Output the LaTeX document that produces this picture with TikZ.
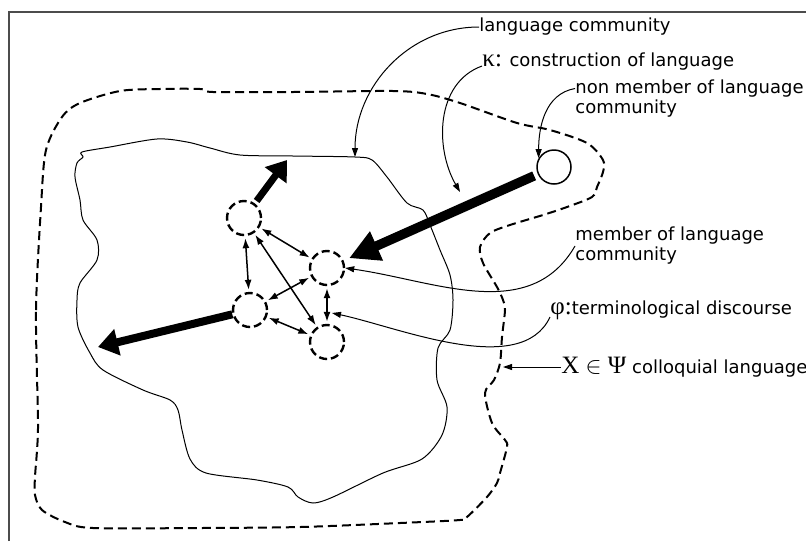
\documentclass[tikz,border=0pt]{standalone}
\usepackage{fontspec}
\setmainfont{DejaVu Sans}
\newfontfamily\grk{Liberation Serif}
\usetikzlibrary{arrows.meta}

\newcommand\gsym[1]{{\grk\fontsize{12.5}{14}\selectfont #1}}

\begin{document}
\begin{tikzpicture}[x=0.5pt,y=0.5pt,
	member/.style={circle,draw,line width=1.2pt,dash pattern=on 4pt off 2pt,minimum size=17pt,inner sep=0pt},
	note/.style={anchor=west,inner sep=0pt,align=left,font=\fontsize{9}{10}\selectfont},
	leader/.style={line width=0.5pt,-{Triangle[length=4.5pt,width=3pt]}},
	link/.style={line width=0.75pt,{Latex[length=5pt,width=3.5pt]}-{Latex[length=5pt,width=3.5pt]},shorten <=1pt,shorten >=1pt}]

	\useasboundingbox (0,0) rectangle (806,-541);

	% page frame
	\draw[black!70,line width=0.75pt] (9,-541) -- (9,-12) -- (806,-12);

	% colloquial language
	\draw[line width=1pt,dash pattern=on 4.5pt off 2.5pt] plot[smooth cycle] coordinates {
		(38,-420) (36,-310) (41,-207) (46,-150) (62,-117) (80,-103) (120,-91) (160,-89)
		(200,-89) (213,-92) (293,-92) (393,-91) (427,-94) (460,-103) (517,-123) (550,-130)
		(587,-143) (603,-160) (603,-172) (597,-187) (592,-197) (567,-207) (543,-215) (510,-225)
		(490,-233) (480,-247) (483,-263) (497,-287) (503,-300) (505,-310) (502,-337) (500,-363)
		(494,-380) (485,-393) (492,-423) (505,-440) (507,-447) (500,-473) (497,-483) (487,-497)
		(467,-517) (460,-520) (400,-523) (300,-527) (200,-528) (93,-528) (65,-522) (42,-510)
		(35,-495) (35,-477) (37,-450)};

	% language community
	\draw[line width=0.5pt] plot[smooth cycle] coordinates {
		(82,-152) (110,-147) (157,-139) (187,-142) (210,-148) (240,-155) (293,-156) (355,-157)
		(372,-160) (387,-177) (407,-203) (423,-210) (430,-225) (440,-250) (450,-275) (453,-300)
		(450,-330) (438,-348) (437,-380) (447,-407) (442,-435) (422,-459) (383,-473) (333,-497)
		(313,-503) (298,-497) (288,-487) (257,-480) (206,-473) (190,-459) (182,-430) (178,-410)
		(170,-400) (143,-390) (103,-370) (90,-353) (78,-327) (77,-300) (80,-283) (97,-260)
		(97,-240) (83,-220) (80,-200) (75,-177) (77,-163) (83,-157)};

	\coordinate (lcend) at (355,-157);
	\coordinate (kend) at (460,-192);
	\coordinate (disc) at (332,-313);
	\coordinate (xend) at (503,-367);
	\coordinate (upend) at (287,-160);
	\coordinate (leftend) at (98,-347);

	% members
	\node[member] (c1) at (244,-218) {};
	\node[member] (c2) at (327,-268) {};
	\node[member] (c3) at (250,-310) {};
	\node[member] (c4) at (327,-342) {};
	\node[circle,draw,line width=0.75pt,minimum size=17pt,inner sep=0pt] (out) at (554,-167) {};

	\draw[link] (c1) -- (c2);
	\draw[link] (c1) -- (c3);
	\draw[link] (c1) -- (c4);
	\draw[link] (c3) -- (c2);
	\draw[link] (c3) -- (c4);
	\draw[link] (c2) -- (c4);

	% construction
	\draw[line width=4.75pt,-{Triangle[length=15pt,width=15pt]},shorten <=2pt,shorten >=3pt] (out) -- (c2);
	\draw[line width=3.5pt,-{Triangle[length=9.5pt,width=13pt]},shorten <=1.5pt] (c1) -- (upend);
	\draw[line width=4pt,-{Triangle[length=10pt,width=13pt]}] (c3) -- (leftend);

	% labels
	\node[note] (lc) at (479,-27) {language community};
	\node[note] (kl) at (482,-62) {\gsym{κ:} construction of language};
	\node[note] (nm) at (575,-98.5) {non member of language\\community};
	\node[note] (ml) at (575,-246) {member of language\\community};
	\node[note] (tl) at (550,-310) {\gsym{φ:}terminological discourse};
	\node[note] (xl) at (561,-367) {\gsym{X $\in$ Ψ} colloquial language};

	\draw[leader] (lc.west) to[out=180,in=90] (lcend);
	\draw[leader] ([yshift=-2pt]kl.west) to[out=200,in=120] (kend);
	\draw[leader] ([yshift=5pt]nm.west) to[out=190,in=90] (out.150);
	\draw[leader] (ml.west) to[out=240,in=-8] (c2.east);
	\draw[leader] ([yshift=-3.5pt]tl.west) to[out=245,in=-12,looseness=0.8] (disc);
	\draw[leader] (xl.west) -- (xend);

\end{tikzpicture}
\end{document}
